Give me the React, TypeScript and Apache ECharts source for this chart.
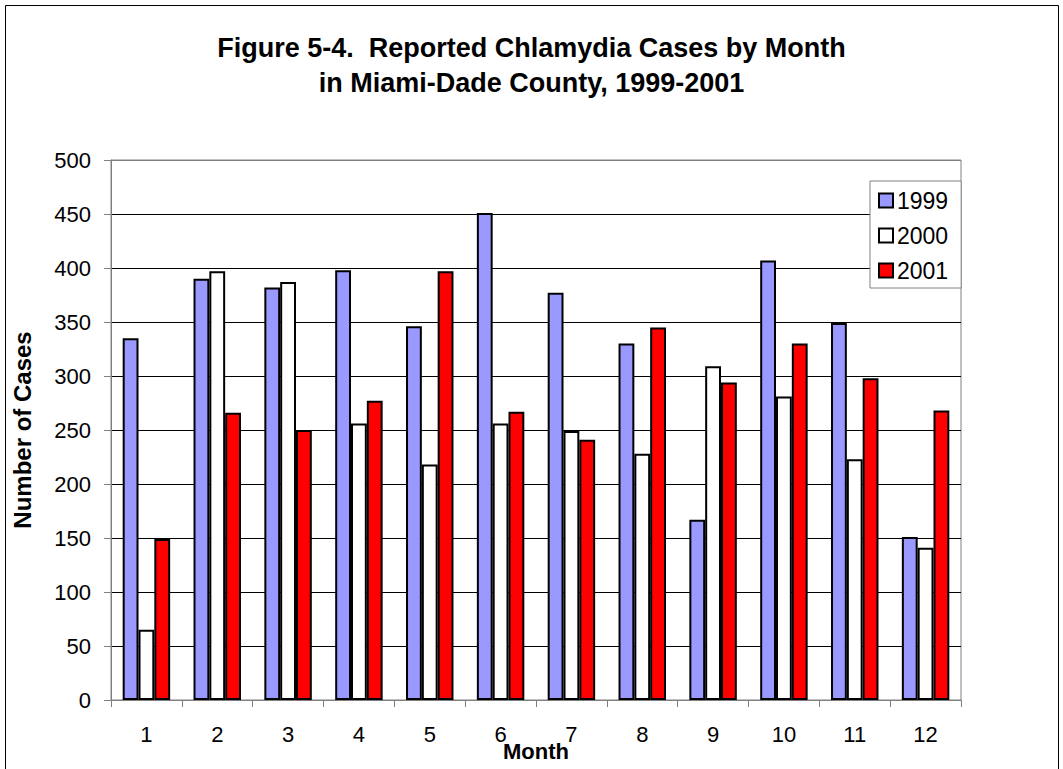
import React, { useEffect, useRef } from "react";
import * as echarts from "echarts";

const months = ["1", "2", "3", "4", "5", "6", "7", "8", "9", "10", "11", "12"];
const cases1999 = [335, 390, 382, 398, 346, 451, 377, 330, 167, 407, 349, 151];
const cases2000 = [65, 397, 387, 256, 218, 256, 249, 228, 309, 281, 223, 141];
const cases2001 = [149, 266, 250, 277, 397, 267, 241, 345, 294, 330, 298, 268];
const seriesNames = ["1999", "2000", "2001"];
const seriesColors = ["#9999FF", "#FFFFFF", "#FF0000"];
const titleLines = ["Figure 5-4.  Reported Chlamydia Cases by Month", "in Miami-Dade County, 1999-2001"];

const FONT = "'Liberation Sans', Arial, sans-serif";

export default function App() {
  const ref = useRef<HTMLDivElement>(null);
  useEffect(() => {
    if (!ref.current) return;
    const chart = echarts.init(ref.current, undefined, { renderer: "svg" });
    const data = [cases1999, cases2000, cases2001];
    const splitColors = ["#808080", "#000", "#000", "#000", "#000", "#000", "#000", "#000", "#000", "#000", "#808080"];
    chart.setOption({
      animation: false,
      backgroundColor: "#FFFFFF",
      textStyle: { fontFamily: FONT },
      title: {
        text: titleLines.join("\n"),
        left: "center",
        top: 25,
        textStyle: { fontFamily: FONT, fontSize: 27, fontWeight: "bold", color: "#000", lineHeight: 35 },
      },
      graphic: [
        {
          type: "rect",
          shape: { x: 5.5, y: 5.5, width: 1053, height: 790 },
          style: { fill: "none", stroke: "#000", lineWidth: 1 },
          silent: true,
          z: -1,
        },
      ],
      legend: {
        orient: "vertical",
        left: 870,
        top: 181,
        padding: [8, 13, 6, 8],
        itemWidth: 14,
        itemHeight: 14,
        itemGap: 12,
        borderColor: "#808080",
        borderWidth: 1,
        backgroundColor: "#fff",
        icon: "rect",
        textStyle: { fontFamily: FONT, fontSize: 23, color: "#000", padding: [0, 0, 0, -1] },
        data: seriesNames,
      },
      grid: {
        left: 111,
        right: 102,
        top: 160,
        bottom: 69,
        show: true,
        outerBoundsMode: "none",
        containLabel: false,
        borderColor: "#808080",
        borderWidth: 1,
        backgroundColor: "transparent",
      },
      xAxis: {
        type: "category",
        data: months,
        name: "Month",
        nameLocation: "middle",
        nameGap: 40,
        nameMoveOverlap: false,
        nameTextStyle: { fontFamily: FONT, fontSize: 22, fontWeight: "bold", color: "#000" },
        axisLine: { lineStyle: { color: "#808080", width: 1 } },
        axisTick: { show: true, length: 7, lineStyle: { color: "#808080" } },
        axisLabel: { fontFamily: FONT, fontSize: 22, color: "#000", margin: 23, interval: 0 },
      },
      yAxis: {
        type: "value",
        min: 0,
        max: 500,
        interval: 50,
        name: "Number of Cases",
        nameLocation: "middle",
        nameGap: 77,
        nameMoveOverlap: false,
        nameTextStyle: { fontFamily: FONT, fontSize: 24, fontWeight: "bold", color: "#000" },
        axisLine: { show: true, lineStyle: { color: "#808080", width: 1 } },
        axisTick: { show: true, length: 7, lineStyle: { color: "#808080" } },
        axisLabel: { fontFamily: FONT, fontSize: 22, color: "#000", margin: 20 },
        splitLine: { show: true, lineStyle: { color: splitColors, width: 1 } },
      },
      series: seriesNames.map((name, i) => ({
        name,
        type: "bar",
        data: data[i],
        barGap: "0%",
        barCategoryGap: "33%",
        itemStyle: { color: seriesColors[i], borderColor: "#000", borderWidth: 2 },
      })),
    });
    return () => chart.dispose();
  }, []);
  return <div ref={ref} style={{ position: "fixed", left: 0, top: 0, width: 1063, height: 769 }} />;
}
